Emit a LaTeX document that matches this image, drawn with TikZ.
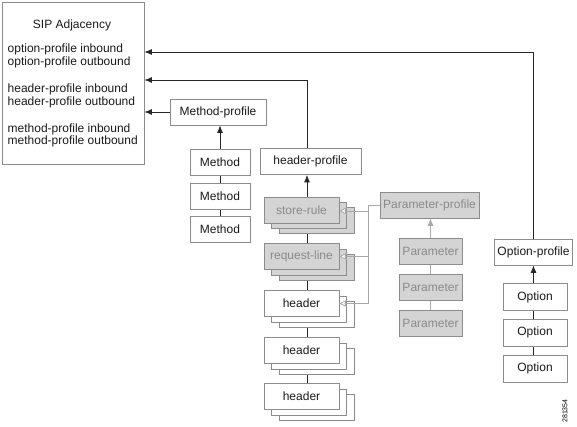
\documentclass[tikz,border=0pt]{standalone}
\usepackage{fontspec}
\setmainfont{Liberation Sans}
\usetikzlibrary{arrows.meta,calc,backgrounds}
\definecolor{bord}{HTML}{8C8C8C}
\definecolor{lnc}{HTML}{262626}
\definecolor{gfill}{HTML}{D4D4D4}
\definecolor{gtext}{HTML}{8A8A8A}
\definecolor{glc}{HTML}{A8A8A8}
\definecolor{tc}{HTML}{1A1A1A}
\begin{document}
\begin{tikzpicture}[x=1pt,y=-1pt,
  box/.style={draw=bord,fill=white,line width=0.8pt,inner sep=0pt,minimum height=26pt,text=tc,font=\fontsize{12}{14}\selectfont},
  gbox/.style={box,fill=gfill,text=gtext},
  txt/.style={anchor=base west,inner sep=0pt,text=tc,font=\fontsize{12}{14}\selectfont},
  ln/.style={draw=lnc,line width=0.8pt},
  arr/.style={ln,-{Latex[length=7.5pt,width=6pt]}},
  gln/.style={draw=glc,line width=0.8pt},
  garr/.style={gln,-{Stealth[length=8pt,width=8pt,inset=2pt,fill=white]}},
  gfarr/.style={gln,-{Latex[length=7.5pt,width=6pt]}},
]
\useasboundingbox (0,0) rectangle (577,427);
% SIP adjacency
\node[draw=bord,line width=0.8pt,inner sep=0pt,minimum width=142pt,minimum height=162pt] (sip) at (73,83) {};
\node[anchor=base,inner sep=0pt,text=tc,font=\fontsize{12}{14}\selectfont] (t0) at (72,29) {SIP Adjacency};
\node[txt] (t1) at (7.5,53) {option-profile inbound};
\node[txt] (t2) at (7.5,65.5) {option-profile outbound};
\node[txt] (t3) at (7.5,93) {header-profile inbound};
\node[txt] (t4) at (7.5,105.5) {header-profile outbound};
\node[txt] (t5) at (7.5,132.5) {method-profile inbound};
\node[txt] (t6) at (7.5,145) {method-profile outbound};
\coordinate (r1) at (0,52);
\coordinate (r2) at (0,80);
\coordinate (colx) at (307,0);
\coordinate (gj) at (368,0);
% Method
\node[box,minimum width=96pt] (mp) at (218,112) {Method-profile};
\node[box,minimum width=60pt] (m1) at (220,162.5) {Method};
\node[box,minimum width=60pt] (m2) at (220,196) {Method};
\node[box,minimum width=60pt] (m3) at (220,229.5) {Method};
% header profile
\node[box,minimum width=101pt] (hp) at (310.5,161.5) {header-profile};
% store-rule stack
\node[gbox,minimum width=75pt] (sr3) at (316.5,220.5) {};
\node[gbox,minimum width=75pt] (sr2) at (309,215.5) {};
\node[gbox,minimum width=75pt] (sr) at (301.5,210) {store-rule};
% request-line stack
\node[gbox,minimum width=75pt] (rl3) at (316.5,267) {};
\node[gbox,minimum width=75pt] (rl2) at (309,262) {};
\node[gbox,minimum width=75pt] (rl) at (301.5,256.5) {request-line};
% header stacks
\node[box,minimum width=75pt] (ha3) at (316.5,314) {};
\node[box,minimum width=75pt] (ha2) at (309,309) {};
\node[box,minimum width=75pt] (ha) at (301.5,303.5) {header};
\node[box,minimum width=75pt] (hb3) at (316.5,361) {};
\node[box,minimum width=75pt] (hb2) at (309,356) {};
\node[box,minimum width=75pt] (hb) at (301.5,350.5) {header};
\node[box,minimum width=75pt] (hc3) at (316.5,407) {};
\node[box,minimum width=75pt] (hc2) at (309,402) {};
\node[box,minimum width=75pt] (hc) at (301.5,396.5) {header};
% parameter
\node[gbox,minimum width=99pt] (pp) at (429.5,205) {Parameter-profile};
\node[gbox,minimum width=63pt] (pa1) at (430.5,251.5) {Parameter};
\node[gbox,minimum width=63pt] (pa2) at (430.5,287.5) {Parameter};
\node[gbox,minimum width=63pt] (pa3) at (430.5,323) {Parameter};
% option
\node[box,minimum width=78pt] (op) at (533.5,252) {Option-profile};
\node[box,minimum width=64pt,minimum height=27pt] (o1) at (535,297) {Option};
\node[box,minimum width=64pt,minimum height=27pt] (o2) at (535,332.5) {Option};
\node[box,minimum width=64pt,minimum height=27pt] (o3) at (535,368.5) {Option};
% id
\node[rotate=90,inner sep=0pt,font=\fontsize{7}{8}\selectfont] (id) at (565,411) {281354};
% connectors behind boxes
\begin{scope}[on background layer]
\draw[arr] (m3.north) -- (mp.south -| m3.north);
\draw[arr] (hc.north -| colx) -- (hp.south -| colx);
\draw[gfarr] (pa3.north) -- (pp.south -| pa3.north);
\draw[arr] (o3.north -| op.south) -- (op.south);
\end{scope}
% to SIP adjacency
\draw[arr] (op.north) |- (r1 -| sip.east);
\draw[arr] (hp.north -| colx) |- (r2 -| sip.east);
\draw[arr] (mp.west) -- (mp.west -| sip.east);
% parameter-profile feeds
\draw[gln] (pp.west) -- (pp.west -| gj) -- (ha.east -| gj);
\draw[garr] ($(sr.east -| gj)+(0,1)$) -- ($(sr.east)+(0,1)$);
\draw[garr] (rl.east -| gj) -- (rl.east);
\draw[garr] (ha.east -| gj) -- (ha.east);
\end{tikzpicture}
\end{document}
